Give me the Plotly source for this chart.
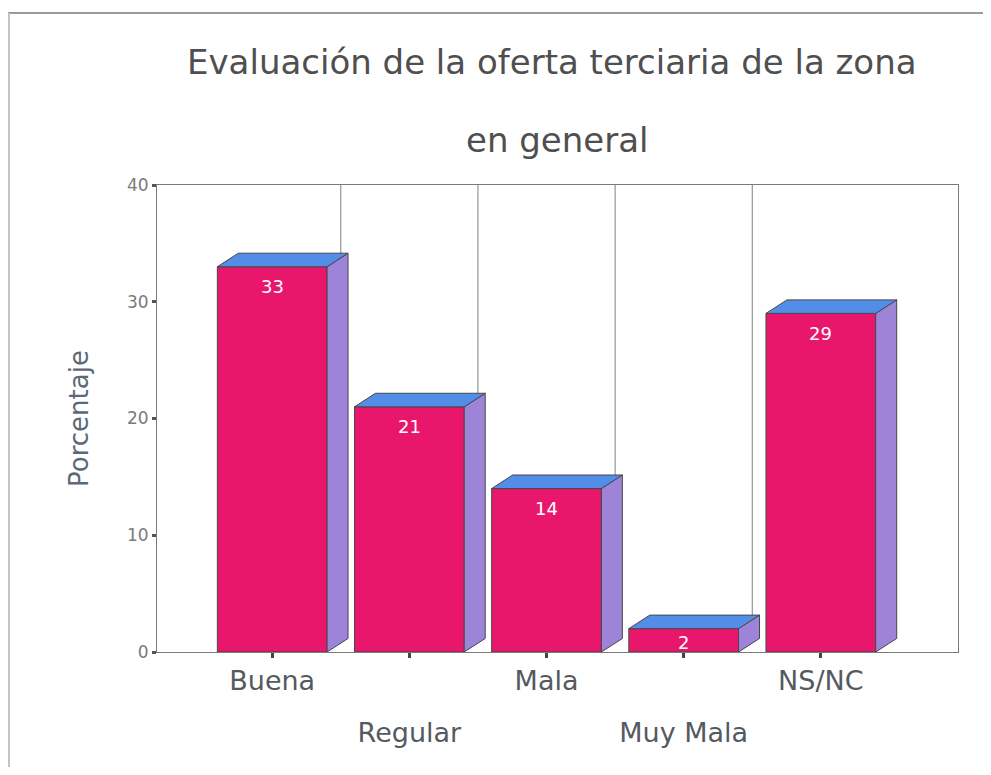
import plotly.graph_objects as go

categories = ['Buena', 'Regular', 'Mala', 'Muy Mala', 'NS/NC']
porcentaje = [33, 21, 14, 2, 29]
y_ticks = [0, 10, 20, 30, 40]

FRONT = '#E8176B'
TOP = '#528DE8'
SIDE = '#9E84D8'
EDGE = '#474747'

# fake 3d depth, in axis units
bar_w = 0.8
dx = 0.153
dy = 1.16

# page has an 8px body margin, so the figure is a bit smaller than the window
OFF = 8
W, H = 991 - 2 * OFF, 775 - 2 * OFF
M_L, M_R, M_T, M_B = 157 - OFF, 991 - 958 - OFF, 185 - OFF, 775 - 652 - OFF
PLOT_H = H - M_T - M_B
PX_PER_UNIT = PLOT_H / (y_ticks[-1] - y_ticks[0])


def py(ypx):
    # window pixel row -> paper y
    return (H - M_B - (ypx - OFF)) / PLOT_H


def px(xpx):
    return (xpx - OFF - M_L) / (W - M_L - M_R)


xs = list(range(len(categories)))

top_x, top_y, side_x, side_y = [], [], [], []
for i, v in zip(xs, porcentaje):
    l, r = i - bar_w / 2, i + bar_w / 2
    top_x += [l, r, r + dx, l + dx, l, None]
    top_y += [v, v, v + dy, v + dy, v, None]
    side_x += [r, r + dx, r + dx, r, r, None]
    side_y += [0, dy, v + dy, v, 0, None]

fig = go.Figure()
fig.add_trace(go.Bar(
    x=xs, y=porcentaje, width=bar_w,
    marker=dict(color=FRONT, line=dict(color=EDGE, width=1)),
    hoverinfo='skip',
))
fig.add_trace(go.Scatter(
    x=side_x, y=side_y, mode='lines', fill='toself', fillcolor=SIDE,
    line=dict(color=EDGE, width=1), hoverinfo='skip',
))
fig.add_trace(go.Scatter(
    x=top_x, y=top_y, mode='lines', fill='toself', fillcolor=TOP,
    line=dict(color=EDGE, width=1), hoverinfo='skip',
))

# value labels inside the top of each bar
for i, v in zip(xs, porcentaje):
    fig.add_annotation(x=i, y=v, text=str(v), showarrow=False,
                       yanchor='middle', yshift=-min(20, v * PX_PER_UNIT / 2 + 2),
                       font=dict(family='DejaVu Sans', size=18, color='white'))

# back wall separators between categories
for i in xs[:-1]:
    fig.add_shape(type='line', xref='x', yref='y', x0=i + 0.5, x1=i + 0.5,
                  y0=dy, y1=y_ticks[-1], layer='below',
                  line=dict(color='#808080', width=1))

# scanned page border
fig.add_shape(type='line', xref='paper', yref='paper',
              x0=px(OFF), x1=px(991), y0=py(13), y1=py(13),
              line=dict(color='#9a9a9a', width=2))
fig.add_shape(type='line', xref='paper', yref='paper',
              x0=px(OFF + 1), x1=px(OFF + 1), y0=py(13), y1=py(775),
              line=dict(color='#c4c4c4', width=2))

title_font = dict(family='DejaVu Sans', size=34, color='#4f4f4f')
fig.add_annotation(text='Evaluación de la oferta terciaria de la zona',
                   xref='paper', yref='paper', x=0.5, y=py(62), xshift=-6,
                   xanchor='center', yanchor='middle', showarrow=False,
                   font=title_font)
fig.add_annotation(text='en general',
                   xref='paper', yref='paper', x=0.5, y=py(140),
                   xanchor='center', yanchor='middle', showarrow=False,
                   font=title_font)

axis_line = dict(showline=True, mirror=True, linecolor='#7a7a7a', linewidth=1,
                 showgrid=False, zeroline=False)

fig.update_layout(
    width=W, height=H,
    margin=dict(l=M_L, r=M_R, t=M_T, b=M_B),
    paper_bgcolor='white', plot_bgcolor='white',
    showlegend=False,
    font=dict(family='DejaVu Sans', color='#555'),
    xaxis=dict(
        range=[-0.84, 5.0],
        tickvals=xs,
        ticktext=[c if i % 2 == 0 else '' for i, c in enumerate(categories)],
        ticks='outside', ticklen=5, tickwidth=3, tickcolor='#444',
        tickfont=dict(size=27, color='#555a60'),
        ticklabelstandoff=0,
        **axis_line,
    ),
    xaxis2=dict(
        overlaying='x', matches='x', anchor='y', side='bottom',
        tickvals=xs[1::2], ticktext=categories[1::2],
        ticks='', showline=False, showgrid=False, zeroline=False,
        tickfont=dict(size=27, color='#555a60'),
        ticklabelstandoff=62,
    ),
    yaxis=dict(
        range=[y_ticks[0], y_ticks[-1]],
        tickvals=y_ticks,
        ticks='outside', ticklen=4, tickwidth=3, tickcolor='#555',
        tickfont=dict(size=17, color='#7a7a7a'),
        title=dict(text='Porcentaje', standoff=30,
                   font=dict(size=26, color='#5b6878')),
        **axis_line,
    ),
)

# invisible trace so the second x axis gets drawn
fig.add_trace(go.Scatter(x=[xs[0]], y=[0], xaxis='x2', mode='markers',
                         marker=dict(opacity=0), hoverinfo='skip'))

fig.write_html('out.html')
